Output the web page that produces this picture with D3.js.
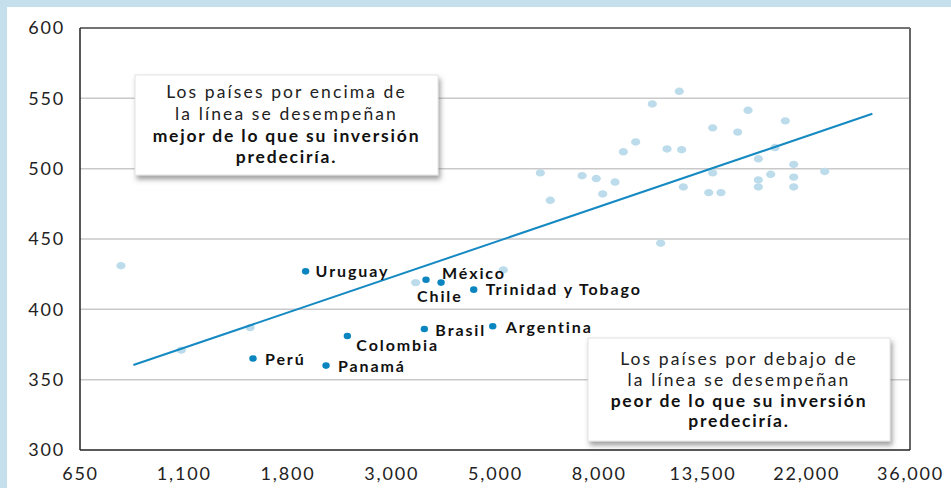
<!DOCTYPE html>
<html>
<head>
<meta charset="utf-8">
<script src="https://cdn.jsdelivr.net/npm/d3@7"></script>
<style>
  body { margin: 0; background: #c6dfec; }
  svg { display: block; }
  .tick text { font-family: Lato, sans-serif; font-size: 18px; letter-spacing: 1.8px; fill: #222; }
  .lbl { font-family: Lato, sans-serif; font-size: 16px; font-weight: bold; letter-spacing: 1.9px; fill: #111; }
  .note { font-family: Lato, sans-serif; font-size: 17.5px; fill: #222; letter-spacing: 2.1px; }
  .note.b { font-weight: bold; letter-spacing: 1.8px; fill: #111; }
</style>
</head>
<body>
<svg width="951" height="488"></svg>
<script>
// tick labels
var xTickValues = [650, 1100, 1800, 3000, 5000, 8000, 13500, 22000, 36000];
var xTickLabels = ["650", "1,100", "1,800", "3,000", "5,000", "8,000", "13,500", "22,000", "36,000"];
var yTicks = [300, 350, 400, 450, 500, 550, 600];

// other countries (light dots): spending per student, score
var otherX = [800, 1086, 1507, 3383, 5192, 12008, 10480, 9638, 9056, 11288, 12153, 6140, 7417, 7910,
  8685, 8161, 6423, 12254, 16728, 14162, 15931, 19934, 18993, 17557, 20739, 14162, 18608, 24016,
  20739, 17557, 13901, 14726, 17557, 20739, 10933];
var otherY = [431, 371, 387, 419, 428, 555, 546, 519, 512, 514, 513.5, 497, 495, 493,
  490.5, 482, 477.5, 487, 541.5, 529, 526, 534, 515, 507, 503, 497, 496, 498,
  494, 492, 483, 483, 487, 487, 447];

// latin american countries (dark dots)
var latamNames = ["Uruguay", "Perú", "Chile", "México", "Trinidad y Tobago", "Colombia", "Panamá", "Brasil", "Argentina"];
var latamX = [1968, 1528, 3560, 3834, 4503, 2417, 2176, 3531, 4944];
var latamY = [427, 365, 421, 419, 414, 381, 360, 386, 388];

// regression line endpoints
var trendX = [852, 30107];
var trendY = [360.4, 539];

var noteAbove = ["Los países por encima de", "la línea se desempeñan", "mejor de lo que su inversión", "predeciría."];
var noteBelow = ["Los países por debajo de", "la línea se desempeñan", "peor de lo que su inversión", "predeciría."];

var margin = {top: 28, right: 41, bottom: 38, left: 80},
    width = 951 - margin.left - margin.right,
    height = 488 - margin.top - margin.bottom;

var root = d3.select("svg");

// defs: shadow for the notes
var defs = root.append("defs");
var f = defs.append("filter").attr("id", "shadow")
  .attr("x", "-5%").attr("y", "-5%").attr("width", "115%").attr("height", "125%");
f.append("feDropShadow").attr("dx", 2).attr("dy", 4).attr("stdDeviation", 2.5)
  .attr("flood-color", "#555").attr("flood-opacity", 0.55);

// white panel
root.append("rect").attr("x", 7).attr("y", 7).attr("width", 951).attr("height", 488).attr("fill", "#fff");

var svg = root.append("g").attr("transform", "translate(" + margin.left + "," + margin.top + ")");

// scales: piecewise log so the ticks sit evenly spaced
var x = d3.scaleLog()
  .domain(xTickValues)
  .range(xTickValues.map(function(d, i) { return i * width / (xTickValues.length - 1); }));
var y = d3.scaleLinear().domain([300, 600]).range([height, 0]);

// grid lines
svg.selectAll(".grid")
  .data(yTicks.slice(1, -1))
  .enter().append("line")
  .attr("x1", 0).attr("x2", width)
  .attr("y1", function(d) { return y(d); })
  .attr("y2", function(d) { return y(d); })
  .attr("stroke", "#c9c9c9").attr("stroke-width", 1.5);

// axes
var yAxis = svg.append("g")
  .call(d3.axisLeft(y).tickValues(yTicks).tickSize(0).tickPadding(15));
yAxis.select(".domain").remove();

var xAxis = svg.append("g")
  .attr("transform", "translate(0," + height + ")")
  .call(d3.axisBottom(x).tickValues(xTickValues).tickSize(0).tickPadding(17)
    .tickFormat(function(d, i) { return xTickLabels[i]; }));
xAxis.select(".domain").remove();

// frame
svg.append("line").attr("x1", 0).attr("x2", width).attr("y1", 0).attr("y2", 0)
  .attr("stroke", "#444").attr("stroke-width", 1.5);
svg.append("line").attr("x1", width).attr("x2", width).attr("y1", 0).attr("y2", height)
  .attr("stroke", "#666").attr("stroke-width", 2);
svg.append("line").attr("x1", 0).attr("x2", 0).attr("y1", 0).attr("y2", height)
  .attr("stroke", "#222").attr("stroke-width", 1.5);
svg.append("line").attr("x1", 0).attr("x2", width).attr("y1", height).attr("y2", height)
  .attr("stroke", "#222").attr("stroke-width", 1.5);

// light dots
svg.selectAll(".other")
  .data(otherX)
  .enter().append("ellipse")
  .attr("class", "other")
  .attr("cx", function(d) { return x(d); })
  .attr("cy", function(d, i) { return y(otherY[i]); })
  .attr("rx", 4.6).attr("ry", 3.7)
  .attr("fill", "#bcdceb");

// trend line
svg.append("line")
  .attr("x1", x(trendX[0])).attr("y1", y(trendY[0]))
  .attr("x2", x(trendX[1])).attr("y2", y(trendY[1]))
  .attr("stroke", "#1589c2").attr("stroke-width", 2);

// dark dots + labels
var labelPos = {
  "Uruguay": [10, 0], "Perú": [12, 1], "Chile": [-9, 16], "México": [1, -9],
  "Trinidad y Tobago": [12, 0], "Colombia": [9, 9], "Panamá": [12, 1],
  "Brasil": [11, 1], "Argentina": [13, 1]
};
svg.selectAll(".latam")
  .data(latamX)
  .enter().append("ellipse")
  .attr("class", "latam")
  .attr("cx", function(d) { return x(d); })
  .attr("cy", function(d, i) { return y(latamY[i]); })
  .attr("rx", 3.7).attr("ry", 3.3)
  .attr("fill", "#0a85bf");

svg.selectAll(".lbl")
  .data(latamNames)
  .enter().append("text")
  .attr("class", "lbl")
  .attr("x", function(d, i) { return x(latamX[i]) + labelPos[d][0]; })
  .attr("y", function(d, i) { return y(latamY[i]) + labelPos[d][1]; })
  .attr("dy", "0.36em")
  .text(function(d) { return d; });

// note boxes
function note(lines, bx, by, bw, bh, top, lh) {
  var g = root.append("g");
  g.append("rect").attr("x", bx).attr("y", by).attr("width", bw).attr("height", bh)
    .attr("fill", "#fff").attr("stroke", "#e2e2e2").attr("filter", "url(#shadow)");
  g.selectAll("text").data(lines).enter().append("text")
    .attr("class", function(d, i) { return i < 2 ? "note" : "note b"; })
    .attr("x", bx + bw / 2)
    .attr("y", function(d, i) { return by + top + i * lh; })
    .attr("dy", "0.36em")
    .attr("text-anchor", "middle")
    .text(function(d) { return d; });
}
note(noteAbove, 135, 75, 303, 100, 17, 21.7);
note(noteBelow, 588, 338, 302, 103, 21, 20.6);
</script>
</body>
</html>
